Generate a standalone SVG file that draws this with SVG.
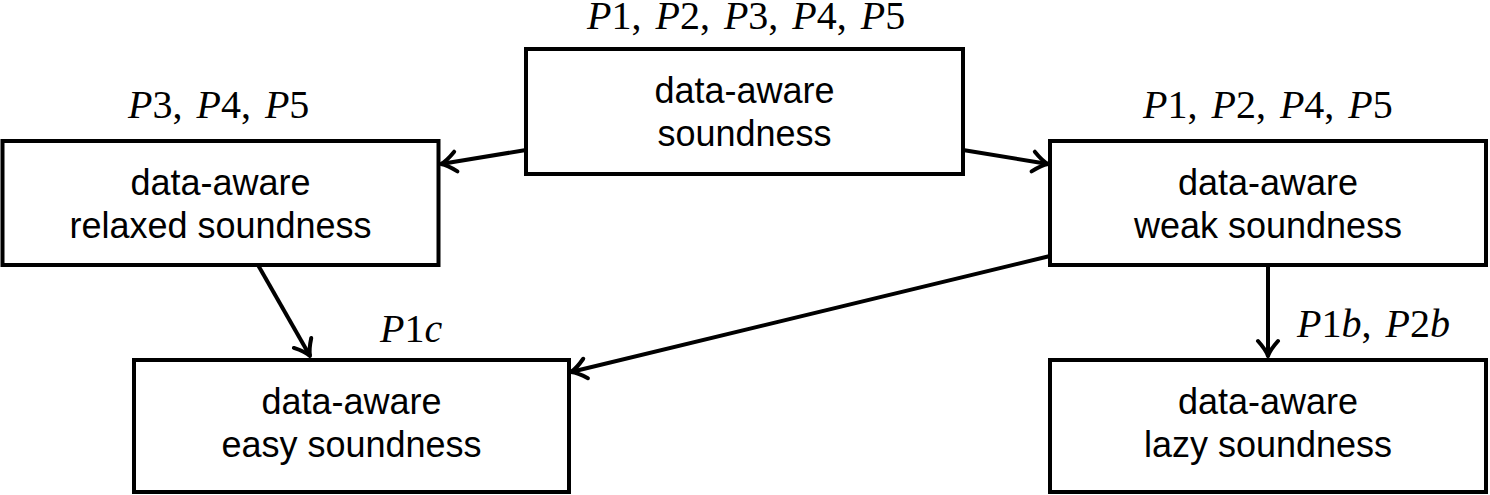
<svg xmlns="http://www.w3.org/2000/svg" width="1490" height="495" viewBox="0 0 1490 495">
<style>
.box{fill:#fff;stroke:#000;stroke-width:4}
.t{font-family:"Liberation Sans",Arial,sans-serif;font-size:36px;text-anchor:middle;fill:#000}
.m{font-family:"Liberation Serif","Times New Roman",serif;font-size:40px;word-spacing:4px;fill:#000}
.i{font-style:italic}
.c{fill:none;stroke:#000;stroke-width:4}
</style>
<defs>
<marker id="ah" markerUnits="userSpaceOnUse" viewBox="-20 -13 24 26" markerWidth="24" markerHeight="26" refX="0" refY="0" orient="auto">
<path d="M-15,-10 Q-6,-2 0,0 Q-6,2 -15,10" fill="none" stroke="#000" stroke-width="4" stroke-linecap="round" stroke-linejoin="round"/>
</marker>
</defs>
<rect width="1490" height="495" fill="#fff"/>
<g id="connectors">
<line class="c" x1="526" y1="150" x2="441" y2="164" marker-end="url(#ah)"/>
<line class="c" x1="963" y1="150" x2="1048" y2="164" marker-end="url(#ah)"/>
<line class="c" x1="258" y1="265" x2="310" y2="356" marker-end="url(#ah)"/>
<line class="c" x1="1050" y1="256" x2="571" y2="372" marker-end="url(#ah)"/>
<line class="c" x1="1268" y1="265" x2="1268" y2="356" marker-end="url(#ah)"/>
</g>
<g id="n-sound">
<rect class="box" x="526" y="49" width="437" height="125"/>
<text class="t" x="744.5" y="103">data-aware</text>
<text class="t" x="744.5" y="146">soundness</text>
<text class="m" x="587" y="29"><tspan class="i">P</tspan>1, <tspan class="i">P</tspan>2, <tspan class="i">P</tspan>3, <tspan class="i">P</tspan>4, <tspan class="i">P</tspan>5</text>
</g>
<g id="n-relaxed">
<rect class="box" x="2.5" y="141" width="436" height="124"/>
<text class="t" x="220.5" y="195">data-aware</text>
<text class="t" x="220.5" y="238">relaxed soundness</text>
<text class="m" x="128" y="118"><tspan class="i">P</tspan>3, <tspan class="i">P</tspan>4, <tspan class="i">P</tspan>5</text>
</g>
<g id="n-weak">
<rect class="box" x="1050" y="141" width="436" height="124"/>
<text class="t" x="1268" y="195">data-aware</text>
<text class="t" x="1268" y="238">weak soundness</text>
<text class="m" x="1143" y="118"><tspan class="i">P</tspan>1, <tspan class="i">P</tspan>2, <tspan class="i">P</tspan>4, <tspan class="i">P</tspan>5</text>
</g>
<g id="n-easy">
<rect class="box" x="134" y="360" width="435" height="132"/>
<text class="t" x="351.5" y="414">data-aware</text>
<text class="t" x="351.5" y="457">easy soundness</text>
<text class="m" x="380" y="342"><tspan class="i">P</tspan>1<tspan class="i">c</tspan></text>
</g>
<g id="n-lazy">
<rect class="box" x="1050" y="360" width="436" height="132"/>
<text class="t" x="1268" y="414">data-aware</text>
<text class="t" x="1268" y="457">lazy soundness</text>
<text class="m" x="1297" y="337"><tspan class="i">P</tspan>1<tspan class="i">b</tspan>, <tspan class="i">P</tspan>2<tspan class="i">b</tspan></text>
</g>
</svg>
